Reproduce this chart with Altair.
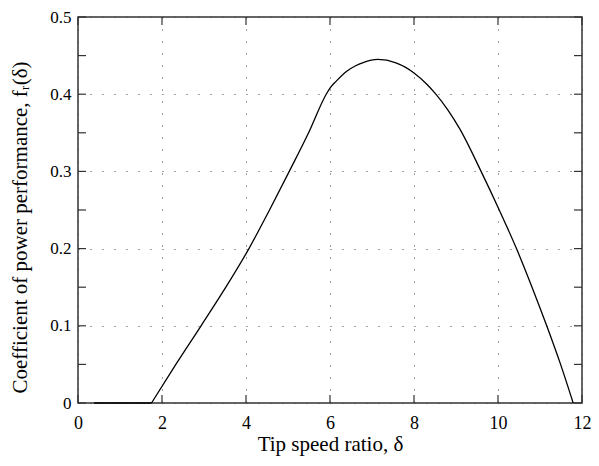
import altair as alt
import pandas as pd

# --- data ---
flat_x = [0.38, 1.75]
flat_y = [0.0, 0.0]
curve_x = [1.75, 2.33, 2.93, 3.52, 4.07, 4.56, 5.03, 5.49, 5.90, 6.00, 6.15, 6.39, 6.60,
           6.79, 7.14, 7.57, 7.80, 8.00, 8.30, 8.52, 8.80, 9.09, 9.58, 10.03, 10.44, 10.81,
           11.16, 11.49, 11.79]
curve_y = [0.0, 0.05, 0.10, 0.15, 0.20, 0.25, 0.30, 0.35, 0.399, 0.408, 0.417, 0.4295, 0.4365,
           0.441, 0.445, 0.4406, 0.4347, 0.4275, 0.4132, 0.400, 0.380, 0.355, 0.302, 0.25,
           0.20, 0.15, 0.10, 0.05, 0.0]
x_ticks = [0, 2, 4, 6, 8, 10, 12]
y_ticks = [0.0, 0.05, 0.1, 0.15, 0.2, 0.25, 0.3, 0.35, 0.4, 0.45, 0.5]

x_title = "Tip speed ratio, δ"
y_title = "Coefficient of power performance, fᵣ(δ)"

W, H = 504, 386
FONT = "Liberation Serif"
FRAME = "#333333"

df_flat = pd.DataFrame({"x": flat_x, "y": flat_y})
df_curve = pd.DataFrame({"x": curve_x, "y": curve_y})
df_xt = pd.DataFrame({"x": x_ticks})
df_yt = pd.DataFrame({"y": y_ticks})

xscale = alt.Scale(domain=[0, 12], nice=False, zero=False)
yscale = alt.Scale(domain=[0, 0.5], nice=False, zero=False)

x_axis = alt.Axis(values=x_ticks, title=x_title, grid=True, gridDash=[1, 11],
                  gridColor="#444444", gridWidth=1, domain=False, ticks=False, tickSize=0,
                  labelFlush=False, labelOverlap=False,
                  labelFont=FONT, labelFontSize=18, labelColor="black", labelPadding=11,
                  labelBaseline="top",
                  titleFont=FONT, titleFontSize=21, titleFontWeight="normal", titleColor="black",
                  titleBaseline="alphabetic", titleY=47)
y_axis = alt.Axis(values=y_ticks, title=y_title, grid=True, gridDash=[1, 11],
                  gridColor="#444444", gridWidth=1, domain=False, ticks=False, tickSize=0,
                  labelFlush=False, labelOverlap=False,
                  format=".1~f",
                  labelExpr="round(datum.value*100) % 10 == 0 ? datum.label : ''",
                  labelFont=FONT, labelFontSize=17, labelColor="black", labelPadding=7,
                  titleFont=FONT, titleFontSize=21, titleFontWeight="normal", titleColor="black",
                  titleAngle=-90, titleAlign="center", titleBaseline="alphabetic",
                  titleX=-52, titleY=210)

flat = alt.Chart(df_flat).mark_line(color="black", strokeWidth=1.3).encode(
    x=alt.X("x:Q", scale=xscale, axis=x_axis),
    y=alt.Y("y:Q", scale=yscale, axis=y_axis),
)
curve = alt.Chart(df_curve).mark_line(color="black", strokeWidth=1.3, interpolate="monotone").encode(
    x=alt.X("x:Q", scale=xscale),
    y=alt.Y("y:Q", scale=yscale),
)

TL = 8
xt_bottom = alt.Chart(df_xt).mark_rule(color=FRAME, strokeWidth=1.2).encode(
    x=alt.X("x:Q", scale=xscale), y=alt.value(H), y2=alt.value(H - TL))
xt_top = alt.Chart(df_xt).mark_rule(color=FRAME, strokeWidth=1.2).encode(
    x=alt.X("x:Q", scale=xscale), y=alt.value(0), y2=alt.value(TL))
yt_left = alt.Chart(df_yt).mark_rule(color=FRAME, strokeWidth=1.2).encode(
    y=alt.Y("y:Q", scale=yscale), x=alt.value(0), x2=alt.value(TL))
yt_right = alt.Chart(df_yt).mark_rule(color=FRAME, strokeWidth=1.2).encode(
    y=alt.Y("y:Q", scale=yscale), x=alt.value(W), x2=alt.value(W - TL))

chart = alt.layer(flat, curve, xt_bottom, xt_top, yt_left, yt_right).properties(
    width=W, height=H,
    autosize=alt.AutoSizeParams(type="none"),
    padding={"left": 70, "top": 9, "right": 9, "bottom": 55},
    background="white",
).configure_view(stroke=FRAME, strokeWidth=1.5)

chart.save("out.html", embed_options={"renderer": "svg", "actions": False})
